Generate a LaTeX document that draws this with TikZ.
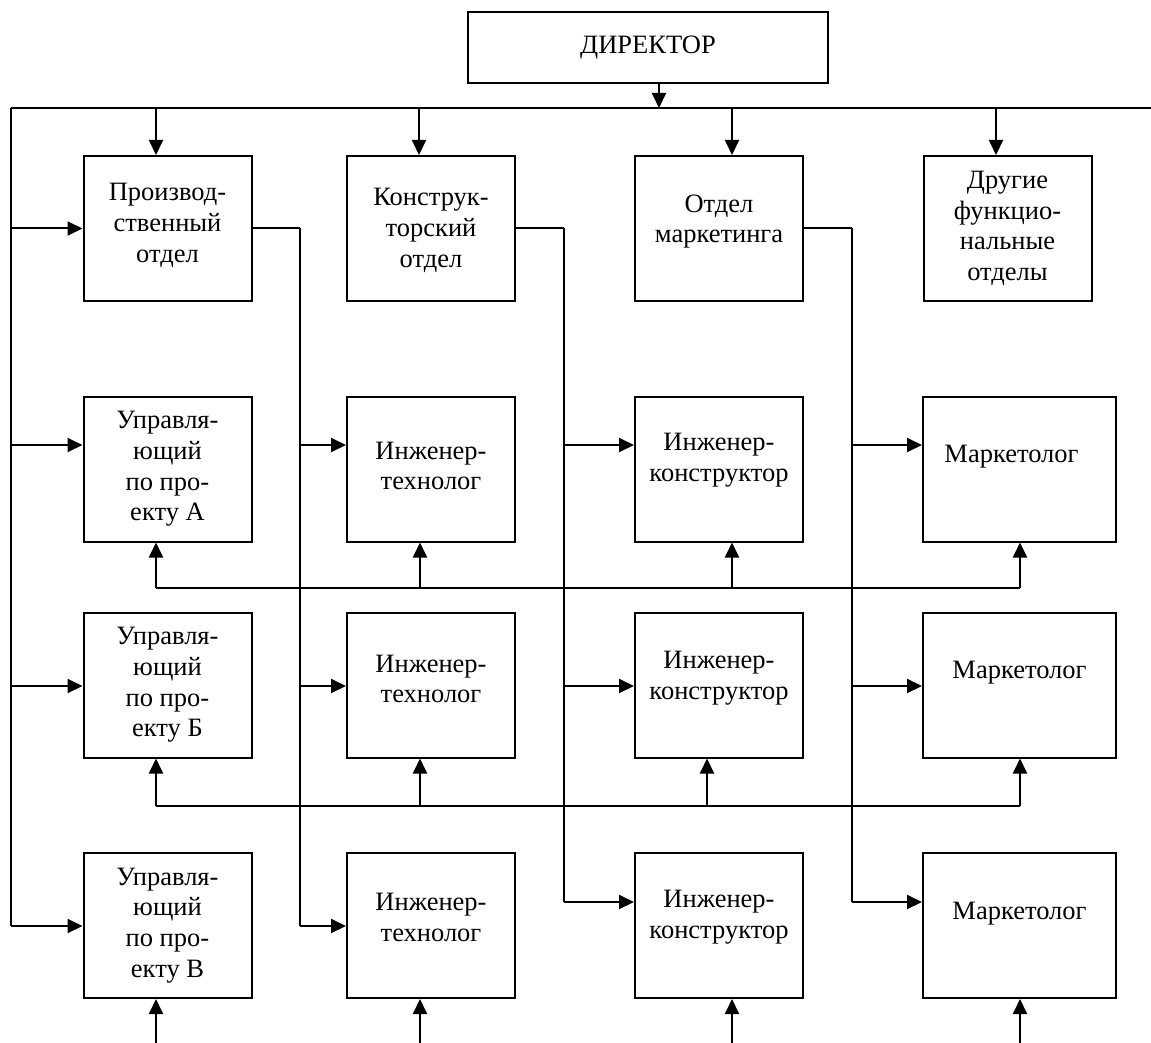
\documentclass[tikz,border=0pt]{standalone}
\usepackage{fontspec}
\setmainfont{Liberation Serif}
\usetikzlibrary{arrows.meta}
\begin{document}
\begin{tikzpicture}[x=1pt,y=-1pt,
  box/.style={draw, line width=2pt, minimum width=168pt, minimum height=145pt, inner sep=0pt},
  txt/.style={align=center, font=\fontsize{26.5}{30.7}\selectfont, inner sep=0pt},
  ln/.style={line width=2pt},
  thinln/.style={line width=1.6pt},
  arr/.style={line width=2pt, -{Triangle[length=15pt,width=14pt]}},
]
\useasboundingbox (0,0) rectangle (1151,1043);

% director
\node[box, minimum width=360pt, minimum height=71pt, label={[txt]center:ДИРЕКТОР}] (dir) at (648,47.5) {};

% row 1
\node[box, label={[txt,yshift=3pt]center:Производ-\\ственный\\отдел}] (p1) at (167.5,228.5) {};
\node[box, label={[txt,yshift=-2pt]center:Конструк-\\торский\\отдел}] (p2) at (431,228.5) {};
\node[box, label={[txt,yshift=7pt]center:Отдел\\маркетинга}] (p3) at (719,228.5) {};
\node[box, label={[txt]center:Другие\\функцио-\\нальные\\отделы}] (p4) at (1007.5,228.5) {};

% row 2
\node[box, label={[txt]center:Управля-\\ющий\\по про-\\екту А}] (a1) at (167.5,469) {};
\node[box, label={[txt,yshift=3pt]center:Инженер-\\технолог}] (t1) at (431,469) {};
\node[box, label={[txt,yshift=9pt]center:Инженер-\\конструктор}] (k1) at (719,469) {};
\node[box, minimum width=193pt, label={[txt,yshift=12pt,xshift=-8pt]center:Маркетолог}] (m1) at (1019.5,469) {};

% row 3
\node[box, label={[txt]center:Управля-\\ющий\\по про-\\екту Б}] (a2) at (167.5,685) {};
\node[box, label={[txt,yshift=6pt]center:Инженер-\\технолог}] (t2) at (431,685) {};
\node[box, label={[txt,yshift=7pt]center:Инженер-\\конструктор}] (k2) at (719,685) {};
\node[box, minimum width=193pt, label={[txt,yshift=12pt]center:Маркетолог}] (m2) at (1019.5,685) {};

% row 4
\node[box, label={[txt]center:Управля-\\ющий\\по про-\\екту В}] (a3) at (167.5,925.5) {};
\node[box, label={[txt,yshift=8pt]center:Инженер-\\технолог}] (t3) at (431,925.5) {};
\node[box, label={[txt,yshift=8pt]center:Инженер-\\конструктор}] (k3) at (719,925.5) {};
\node[box, minimum width=193pt, label={[txt,yshift=12pt]center:Маркетолог}] (m3) at (1019.5,925.5) {};

% helper coordinates
\coordinate (busL) at (11,108);
\coordinate (busR) at (1151,108);
\coordinate (dtap) at (659,108);
\coordinate (r2) at (0,445);
\coordinate (r3) at (0,686);
\coordinate (r4) at (0,926);
\coordinate (r4b) at (0,902);
\coordinate (v1) at (300,0);
\coordinate (v2) at (564,0);
\coordinate (v3) at (852,0);

% director to bus
\draw[ln] (busL) -- (busR);
\draw[arr] (dtap |- dir.south) -- (dtap);

% bus to departments
\draw[arr] (156,108) -- (156,0 |- p1.north);
\draw[arr] (419,108) -- (419,0 |- p2.north);
\draw[arr] (732,108) -- (732,0 |- p3.north);
\draw[arr] (996,108) -- (996,0 |- p4.north);

% left vertical to project managers
\draw[ln] (busL) -- (busL |- r4);
\draw[arr] (busL |- p1.west) -- (p1.west);
\draw[arr] (busL |- r2) -- (a1.west |- r2);
\draw[arr] (busL |- r3) -- (a2.west |- r3);
\draw[arr] (busL |- r4) -- (a3.west |- r4);

% production dept distribution
\draw[ln] (p1.east) -- (v1 |- p1.east);
\draw[thinln] (v1 |- p1.east) -- (v1 |- r4);
\draw[arr] (v1 |- r2) -- (t1.west |- r2);
\draw[arr] (v1 |- r3) -- (t2.west |- r3);
\draw[arr] (v1 |- r4) -- (t3.west |- r4);

% design dept distribution
\draw[ln] (p2.east) -- (v2 |- p2.east);
\draw[thinln] (v2 |- p2.east) -- (v2 |- r4b);
\draw[arr] (v2 |- r2) -- (k1.west |- r2);
\draw[arr] (v2 |- r3) -- (k2.west |- r3);
\draw[arr] (v2 |- r4b) -- (k3.west |- r4b);

% marketing dept distribution
\draw[ln] (p3.east) -- (v3 |- p3.east);
\draw[thinln] (v3 |- p3.east) -- (v3 |- r4b);
\draw[arr] (v3 |- r2) -- (m1.west |- r2);
\draw[arr] (v3 |- r3) -- (m2.west |- r3);
\draw[arr] (v3 |- r4b) -- (m3.west |- r4b);

% project A bus
\draw[ln] (156,588) -- (1020,588);
\draw[arr] (156,588) -- (156,0 |- a1.south);
\draw[arr] (420,588) -- (420,0 |- t1.south);
\draw[arr] (732,588) -- (732,0 |- k1.south);
\draw[arr] (1020,588) -- (1020,0 |- m1.south);

% project B bus
\draw[ln] (156,806) -- (1020,806);
\draw[arr] (156,806) -- (156,0 |- a2.south);
\draw[arr] (420,806) -- (420,0 |- t2.south);
\draw[arr] (707,806) -- (707,0 |- k2.south);
\draw[arr] (1020,806) -- (1020,0 |- m2.south);

% project C inputs
\draw[arr] (156,1043) -- (156,0 |- a3.south);
\draw[arr] (420,1043) -- (420,0 |- t3.south);
\draw[arr] (732,1043) -- (732,0 |- k3.south);
\draw[arr] (1020,1043) -- (1020,0 |- m3.south);
\end{tikzpicture}
\end{document}
